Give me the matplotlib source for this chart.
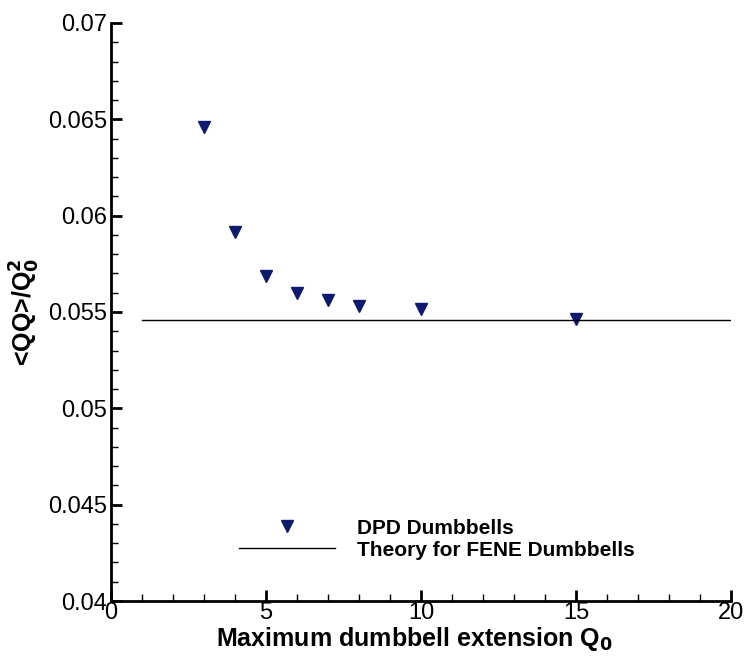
import numpy as np
import matplotlib.pyplot as plt
from matplotlib.ticker import MultipleLocator

plt.rcParams['font.family'] = ['Liberation Sans', 'DejaVu Sans']

# DPD simulation data
q0 = [3, 4, 5, 6, 7, 8, 10, 15]
qq_dpd = [0.0646, 0.05915, 0.05687, 0.0560, 0.05562, 0.05531, 0.05516, 0.05464]
# FENE theory
q0_theory = [1, 20]
qq_theory = [0.05459, 0.05459]

fig = plt.figure(figsize=(7.46, 6.58), dpi=100)
ax = fig.add_axes([0.1488, 0.0866, 0.831, 0.8785])

ax.plot(q0, qq_dpd, linestyle='none', marker='v', markersize=8,
        color='#0d1a6e', label='DPD Dumbbells')
ax.plot(q0_theory, qq_theory, color='black', linewidth=1.0,
        label='Theory for FENE Dumbbells')

ax.set_xlim(0, 20)
ax.set_ylim(0.04, 0.07)
ax.xaxis.set_major_locator(MultipleLocator(5))
ax.xaxis.set_minor_locator(MultipleLocator(1))
ax.yaxis.set_minor_locator(MultipleLocator(0.001))
ax.set_yticks([0.04, 0.045, 0.05, 0.055, 0.06, 0.065, 0.07])
ax.set_yticklabels(['0.04', '0.045', '0.05', '0.055', '0.06', '0.065', '0.07'])

for s in ['top', 'right']:
    ax.spines[s].set_visible(False)
for s in ['left', 'bottom']:
    ax.spines[s].set_linewidth(2)

ax.tick_params(which='major', direction='in', length=8, width=2, labelsize=17, pad=3)
ax.tick_params(axis='x', which='major', pad=1)
ax.tick_params(which='minor', direction='in', length=5, width=1)

ax.set_xlabel('Maximum dumbbell extension Q$_\\mathbf{0}$', fontsize=18,
              fontweight='bold')
ax.xaxis.set_label_coords(0.49, -0.041)
ax.xaxis.label.set_va('top')
ax.set_ylabel('<QQ>/Q$_\\mathbf{0}^\\mathbf{2}$', fontsize=18,
              fontweight='bold', labelpad=4)

ax.legend(loc='upper left', bbox_to_anchor=(0.177, 0.175), frameon=False,
          prop={'size': 15, 'weight': 'bold'}, handlelength=4.6,
          handletextpad=1.05, labelspacing=0.15)

plt.savefig('out.png', dpi=100)
